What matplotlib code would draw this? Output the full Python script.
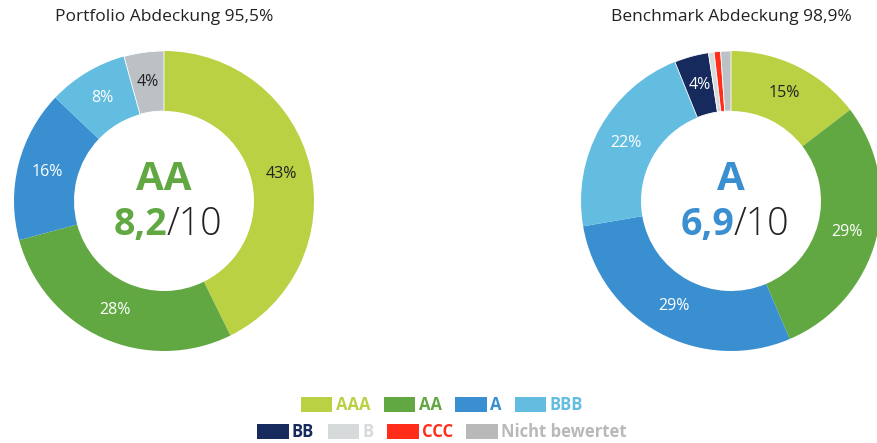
import matplotlib
matplotlib.use("Agg")
import matplotlib.pyplot as plt
from matplotlib.patches import Patch
import numpy as np

plt.rcParams['font.family'] = ['Open Sans', 'DejaVu Sans']

categories = ["AAA", "AA", "A", "BBB", "BB", "B", "CCC", "Nicht bewertet"]
colors = ["#b9d142", "#62a842", "#3a8fd0", "#63bde0", "#172a5e", "#d6dadb", "#ff2d1a", "#bcc1c6"]
legend_colors = ["#b9d142", "#62a842", "#3a8fd0", "#63bde0", "#172a5e", "#d6dadb", "#ff2d1a", "#b9b9b9"]

portfolio_values = [42.7, 28.1, 16.3, 8.6, 0, 0, 0, 4.3]
portfolio_labels = ["43%", "28%", "16%", "8%", "", "", "", "4%"]
benchmark_values = [14.6, 29.0, 28.7, 21.6, 3.7, 0.6, 0.7, 1.1]
benchmark_labels = ["15%", "29%", "29%", "22%", "4%", "", "", ""]
label_text_colors = ["#222222", "white", "white", "white", "white", "#222222", "white", "#222222"]

titles = ["Portfolio Abdeckung 95,5%", "Benchmark Abdeckung 98,9%"]
center_rating = ["AA", "A"]
center_score = ["8,2", "6,9"]
center_colors = ["#62a842", "#3a8fd0"]

W, H = 877, 443
fig = plt.figure(figsize=(W / 100, H / 100), dpi=100)

centers = [(164, 201), (731, 201)]
R = 150
for i, (vals, labs) in enumerate([(portfolio_values, portfolio_labels),
                                   (benchmark_values, benchmark_labels)]):
    cx, cy = centers[i]
    ax = fig.add_axes([(cx - R) / W, (H - cy - R) / H, 2 * R / W, 2 * R / H])
    idx = [k for k, v in enumerate(vals) if v > 0]
    v = [vals[k] for k in idx]
    c = [colors[k] for k in idx]
    wedges, _ = ax.pie(v, colors=c, startangle=90, counterclock=False, radius=1,
                       wedgeprops=dict(width=0.4, linewidth=0))
    # thin white separators only around the small segments
    for w, k in zip(wedges, idx):
        if k >= 4:
            w.set_edgecolor('white')
            w.set_linewidth(0.6)
    total = sum(v)
    cum = 0
    for k, val in zip(idx, v):
        mid = (cum + val / 2) / total * 360
        cum += val
        lab = labs[k]
        if lab:
            ang = np.deg2rad(90 - mid)
            r = 0.8
            ax.text(r * np.cos(ang), r * np.sin(ang), lab, ha='center', va='center',
                    fontsize=11.5, color=label_text_colors[k])
    ax.set_xlim(-1, 1)
    ax.set_ylim(-1, 1)
    ax.set_aspect('equal')
    ax.axis('off')
    ax.text(0, 0.14, center_rating[i], ha='center', va='center', fontsize=29,
            fontweight='bold', color=center_colors[i])
    ax.text(0.02, -0.16, "/10", ha='left', va='center', fontsize=27,
            fontweight='light', color='#222222')
    ax.text(0.02, -0.16, center_score[i], ha='right', va='center', fontsize=27,
            fontweight='bold', color=center_colors[i])
    fig.text(cx / W, 1 - 17 / H, titles[i], ha='center', va='center', fontsize=12.5,
             color='#222222')

handles1 = [Patch(facecolor=legend_colors[k], edgecolor='none') for k in range(4)]
handles2 = [Patch(facecolor=legend_colors[k], edgecolor='none') for k in range(4, 8)]
leg_kw = dict(frameon=False, ncol=4, handlelength=1.9, handleheight=1.0,
              handletextpad=0.2, columnspacing=0.8, borderpad=0,
              prop=dict(size=12, weight='bold'))
l1 = fig.legend(handles1, categories[:4], loc='center', bbox_to_anchor=(442 / W, 1 - 405 / H),
                labelcolor=legend_colors[:4], **leg_kw)
l2 = fig.legend(handles2, categories[4:], loc='center', bbox_to_anchor=(442 / W, 1 - 432 / H),
                labelcolor=legend_colors[4:], **leg_kw)

fig.savefig("out.png", dpi=100)
